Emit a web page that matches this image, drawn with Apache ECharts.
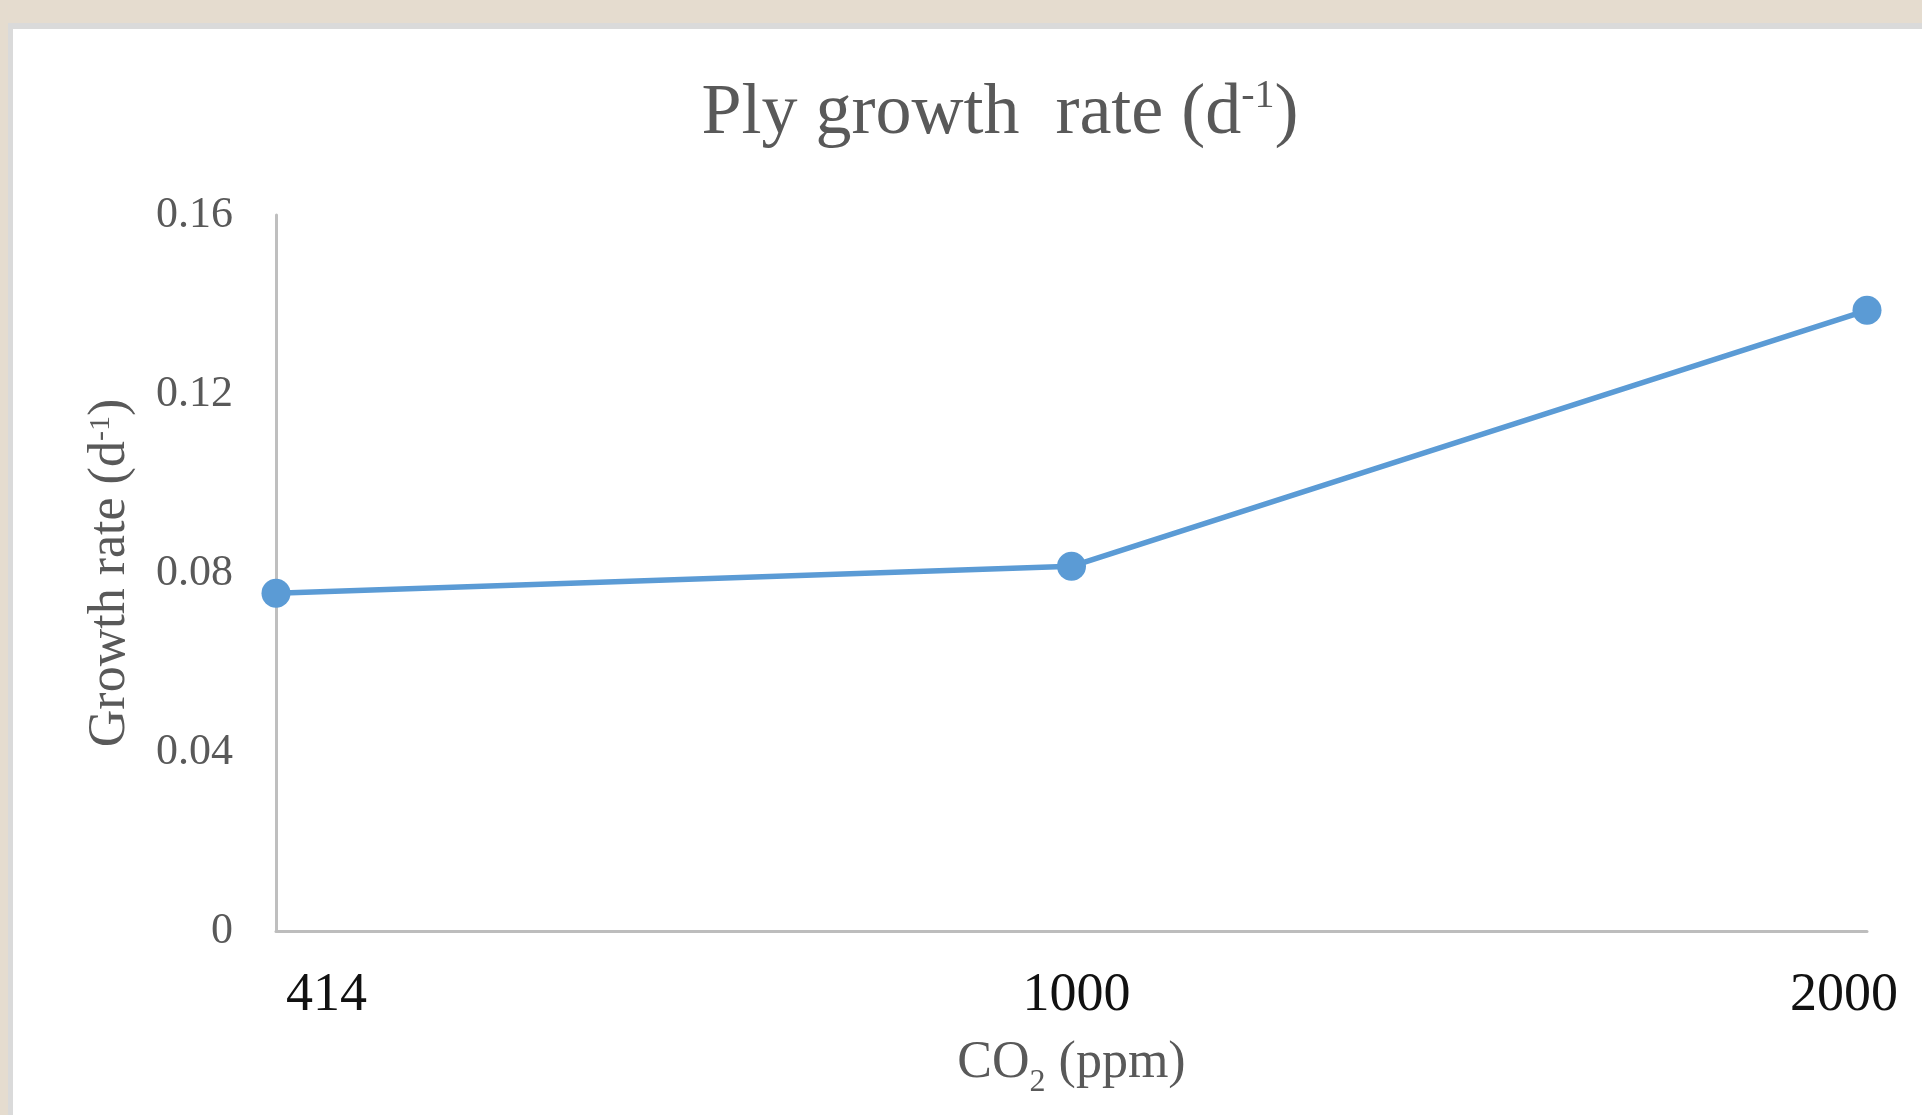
<!DOCTYPE html>
<html>
<head>
<meta charset="utf-8">
<title>Ply growth rate</title>
<script src="https://cdn.jsdelivr.net/npm/echarts@6/dist/echarts.min.js"></script>
<style>
  html, body {
    margin: 0;
    padding: 0;
    width: 1922px;
    height: 1115px;
    overflow: hidden;
    background: #e5dccf;
  }
  /* white slide panel with its grey rim */
  .panel {
    position: absolute;
    left: 8px;
    top: 23px;
    width: 1950px;
    height: 1150px;
    background: #fff;
    border-left: 5px solid #dadada;
    border-top: 6px solid #dadada;
  }
  #chart {
    position: absolute;
    left: 0;
    top: 0;
    width: 1922px;
    height: 1115px;
  }
</style>
</head>
<body>
<div class="panel"></div>
<div id="chart"></div>
<script>
// CO2 levels (ppm) on the x axis
const co2Levels = ["414", "1000", "2000"];
// growth rate per day
const growthRate = [0.0755, 0.0815, 0.1387];
// y axis range
const yMin = 0;
const yMax = 0.16;
const yStep = 0.04;

const grey = "#595959";
const serif = "'Liberation Serif', 'DejaVu Serif', serif";

let myChart = echarts.init(document.getElementById("chart"), null, { renderer: "canvas" });

let option = {
  backgroundColor: "transparent",
  animation: false,
  title: {
    text: "{t|Ply growth  rate (d}{s|-1}{t|)}",
    left: 995,
    textAlign: "center",
    top: 67,
    textStyle: {
      fontWeight: "normal",
      rich: {
        t: { fontFamily: serif, fontSize: 72, fontWeight: "normal", color: grey, lineHeight: 84 },
        s: { fontFamily: serif, fontSize: 40, fontWeight: "normal", color: grey, lineHeight: 84, verticalAlign: "top", padding: [4, 0, 0, 0] },
      },
    },
  },
  grid: {
    left: 276,
    right: 55,
    top: 215,
    bottom: 184,
    containLabel: false,
    outerBoundsMode: "none",
  },
  xAxis: {
    type: "category",
    data: co2Levels,
    boundaryGap: false,
    name: "{t|CO}{s|2}{t| (ppm)}",
    nameLocation: "middle",
    nameGap: 104,
    nameTextStyle: {
      rich: {
        t: { fontFamily: serif, fontSize: 52, color: grey, lineHeight: 56 },
        s: { fontFamily: serif, fontSize: 32, color: grey, lineHeight: 56, verticalAlign: "bottom", padding: [0, 0, -8, 0] },
      },
    },
    axisLine: {
      show: true,
      lineStyle: { color: "#bdbdbd", width: 3 },
    },
    axisTick: { show: false },
    splitLine: { show: false },
    axisLabel: {
      margin: 38,
      interval: 0,
      alignMinLabel: "left",
      alignMaxLabel: "center",
      formatter: function (value, index) {
        if (index === 0) return "{first|" + value + "}";
        if (index === co2Levels.length - 1) return "{last|" + value + "}";
        return "{mid|" + value + "}";
      },
      rich: {
        first: { fontFamily: serif, fontSize: 54, color: "#111", padding: [0, 0, 0, 10] },
        mid: { fontFamily: serif, fontSize: 54, color: "#111", padding: [0, 0, 0, 10] },
        last: { fontFamily: serif, fontSize: 54, color: "#111", padding: [0, 46, 0, 0] },
      },
    },
  },
  yAxis: {
    type: "value",
    min: yMin,
    max: yMax,
    interval: yStep,
    name: "{t|Growth rate (d}{s|-1}{t|)}",
    nameLocation: "middle",
    nameGap: 136,
    nameTextStyle: {
      rich: {
        t: { fontFamily: serif, fontSize: 52, color: grey, lineHeight: 60 },
        s: { fontFamily: serif, fontSize: 30, color: grey, lineHeight: 60, verticalAlign: "top", padding: [6, 0, 0, 0] },
      },
    },
    axisLine: {
      show: true,
      lineStyle: { color: "#bfbfbf", width: 3 },
    },
    axisTick: { show: false },
    splitLine: { show: false },
    axisLabel: {
      margin: 43,
      fontFamily: serif,
      fontSize: 44,
      color: grey,
      padding: [8, 0, 0, 0],
    },
  },
  series: [
    {
      name: "Growth rate",
      type: "line",
      data: growthRate,
      symbol: "circle",
      symbolSize: 29,
      lineStyle: { color: "#5b9bd5", width: 5.5 },
      itemStyle: { color: "#5b9bd5" },
      z: 5,
    },
  ],
};

myChart.setOption(option);
window.addEventListener("resize", function () {
  myChart.resize();
});
</script>
</body>
</html>
